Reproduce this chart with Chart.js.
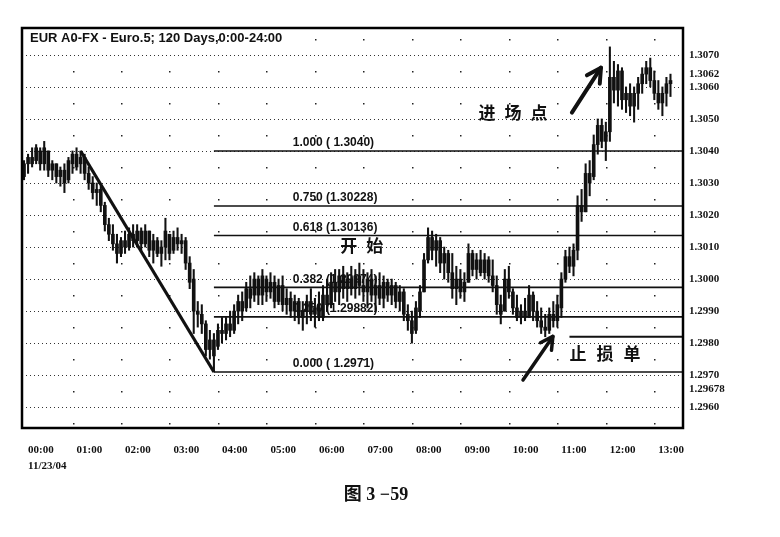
<!DOCTYPE html>
<html>
<head>
<meta charset="utf-8">
<script src="https://cdn.jsdelivr.net/npm/chart.js@4.4.1/dist/chart.umd.min.js"></script>
<style>
  html, body { margin: 0; padding: 0; background: #fff; }
  #wrap { width: 780px; height: 537px; position: relative; }
</style>
</head>
<body>
<div id="wrap"><canvas id="c"></canvas></div>
<script>
// EUR/USD 5-minute bars, 11/23/04 00:00 - 13:20
const highs = [
  1.3037,1.3039,1.3041,1.3042,1.3041,1.3043,1.3040,1.3037,1.3036,1.3035,
  1.3036,1.3038,1.3040,1.3041,1.3040,1.3039,1.3035,1.3032,1.3030,1.3029,
  1.3024,1.3019,1.3017,1.3014,1.3013,1.3015,1.3016,1.3017,1.3017,1.3016,
  1.3017,1.3015,1.3014,1.3013,1.3012,1.3019,1.3014,1.3015,1.3016,1.3014,
  1.3013,1.3007,1.3003,1.2993,1.2992,1.2987,1.2984,1.2983,1.2986,1.2988,
  1.2988,1.2990,1.2992,1.2995,1.2996,1.2999,1.3001,1.3002,1.3001,1.3003,
  1.3001,1.3002,1.3001,1.3000,1.3001,1.2997,1.2996,1.2995,1.2994,1.2993,
  1.2995,1.2997,1.2994,1.2996,1.2998,1.3000,1.3002,1.3003,1.3003,1.3004,
  1.3002,1.3004,1.3003,1.3005,1.3003,1.3002,1.3003,1.3001,1.3002,1.3001,
  1.3000,1.3000,1.2999,1.2998,1.2997,1.2992,1.2990,1.2993,1.2998,1.3008,
  1.3016,1.3015,1.3014,1.3013,1.3010,1.3009,1.3008,1.3004,1.3003,1.3002,
  1.3011,1.3009,1.3008,1.3009,1.3008,1.3007,1.3006,1.3001,1.2995,1.3003,
  1.3004,1.2997,1.2995,1.2992,1.2994,1.2998,1.2996,1.2993,1.2991,1.2989,
  1.2991,1.2993,1.2995,1.3002,1.3009,1.3010,1.3011,1.3026,1.3028,1.3036,
  1.3037,1.3045,1.3050,1.3050,1.3049,1.30725,1.3068,1.3067,1.3066,1.3060,
  1.3061,1.3060,1.3063,1.3066,1.3068,1.3069,1.3065,1.3062,1.3060,1.3063,
  1.3064
];
const lows = [
  1.3031,1.3033,1.3035,1.3036,1.3034,1.3034,1.3032,1.3031,1.3030,1.3029,
  1.3027,1.3030,1.3033,1.3034,1.3033,1.3031,1.3028,1.3025,1.3023,1.3021,
  1.3015,1.3012,1.3009,1.3005,1.3007,1.3008,1.3009,1.3010,1.3010,1.3009,
  1.3010,1.3007,1.3005,1.3007,1.3004,1.3006,1.3006,1.3008,1.3009,1.3008,
  1.3003,1.2997,1.2983,1.2985,1.2983,1.2976,1.2975,1.2971,1.2978,1.2980,
  1.2981,1.2982,1.2983,1.2986,1.2987,1.2990,1.2991,1.2993,1.2992,1.2992,
  1.2993,1.2994,1.2991,1.2992,1.2990,1.2989,1.2988,1.2987,1.2986,1.2984,
  1.2986,1.2987,1.2985,1.2987,1.2987,1.2990,1.2991,1.2993,1.2992,1.2994,
  1.2993,1.2995,1.2994,1.2995,1.2993,1.2991,1.2993,1.2990,1.2992,1.2991,
  1.2993,1.2992,1.2991,1.2990,1.2987,1.2984,1.2980,1.2983,1.2988,1.2996,
  1.3005,1.3006,1.3004,1.3002,1.3000,1.2999,1.2994,1.2992,1.2994,1.2993,
  1.2999,1.3001,1.3000,1.3001,1.3000,1.2999,1.2996,1.2989,1.2986,1.2990,
  1.2994,1.2989,1.2987,1.2986,1.2987,1.2988,1.2987,1.2985,1.2983,1.2982,
  1.2983,1.2985,1.2985,1.2988,1.2999,1.3002,1.3001,1.3006,1.3018,1.3021,
  1.3026,1.3031,1.3039,1.3041,1.3037,1.3043,1.3055,1.3054,1.3053,1.3052,
  1.3051,1.3049,1.3053,1.3058,1.3061,1.3060,1.3056,1.3053,1.3051,1.3054,
  1.3057
];
const opens = [
  1.3032,1.3036,1.3038,1.3037,1.3040,1.3036,1.3040,1.3034,1.3036,1.3032,
  1.3034,1.3031,1.3036,1.3039,1.3036,1.3038,1.3033,1.3030,1.3027,1.3028,
  1.3023,1.3017,1.3014,1.3011,1.3008,1.3012,1.3010,1.3014,1.3012,1.3015,
  1.3011,1.3015,1.3009,1.3012,1.3008,1.3010,1.3014,1.3009,1.3013,1.3011,
  1.3012,1.3005,1.3000,1.2990,1.2989,1.2986,1.2978,1.2981,1.2979,1.2984,
  1.2983,1.2986,1.2984,1.2990,1.2993,1.2991,1.2997,1.2995,1.3000,1.2995,
  1.3000,1.2996,1.2999,1.2993,1.2998,1.2992,1.2994,1.2990,1.2993,1.2988,
  1.2990,1.2993,1.2989,1.2991,1.2988,1.2995,1.2992,1.2999,1.2996,1.3001,
  1.2997,1.3000,1.2997,1.3001,1.2998,1.2996,1.3000,1.2995,1.2998,1.2994,
  1.2999,1.2995,1.2998,1.2993,1.2996,1.2989,1.2987,1.2984,1.2990,1.2996,
  1.3006,1.3013,1.3009,1.3012,1.3005,1.3008,1.3002,1.2997,1.3000,1.2996,
  1.2999,1.3008,1.3003,1.3006,1.3002,1.3006,1.3001,1.2998,1.2992,1.2990,
  1.3000,1.2996,1.2991,1.2988,1.2990,1.2988,1.2995,1.2990,1.2987,1.2985,
  1.2984,1.2989,1.2987,1.2991,1.3000,1.3007,1.3004,1.3009,1.3023,1.3021,
  1.3033,1.3032,1.3042,1.3048,1.3043,1.3046,1.3063,1.3059,1.3065,1.3056,
  1.3058,1.3054,1.3058,1.3061,1.3064,1.3066,1.3062,1.3058,1.3055,1.3058,
  1.3061
];
const closes = [
  1.3036,1.3038,1.3036,1.3041,1.3036,1.3041,1.3034,1.3036,1.3032,1.3034,
  1.3030,1.3037,1.3039,1.3035,1.3038,1.3033,1.3030,1.3027,1.3028,1.3023,
  1.3017,1.3014,1.3011,1.3008,1.3012,1.3010,1.3014,1.3012,1.3015,1.3011,
  1.3015,1.3009,1.3012,1.3008,1.3010,1.3015,1.3008,1.3013,1.3011,1.3012,
  1.3005,1.2999,1.2990,1.2989,1.2986,1.2978,1.2981,1.2976,1.2984,1.2983,
  1.2986,1.2984,1.2990,1.2993,1.2990,1.2997,1.2994,1.3000,1.2995,1.3001,
  1.2996,1.2999,1.2993,1.2998,1.2992,1.2994,1.2990,1.2993,1.2988,1.2990,
  1.2993,1.2989,1.2991,1.2988,1.2995,1.2992,1.2999,1.2996,1.3001,1.2997,
  1.3000,1.2997,1.3001,1.2998,1.2996,1.3000,1.2995,1.2998,1.2994,1.2999,
  1.2995,1.2998,1.2993,1.2996,1.2989,1.2987,1.2983,1.2991,1.2996,1.3006,
  1.3013,1.3009,1.3012,1.3005,1.3008,1.3002,1.2997,1.3000,1.2996,1.2999,
  1.3008,1.3003,1.3006,1.3002,1.3006,1.3001,1.2998,1.2992,1.2989,1.3000,
  1.2996,1.2991,1.2988,1.2990,1.2988,1.2995,1.2990,1.2987,1.2985,1.2984,
  1.2989,1.2987,1.2992,1.3000,1.3007,1.3004,1.3009,1.3023,1.3021,1.3033,
  1.3030,1.3042,1.3048,1.3043,1.3046,1.3063,1.3059,1.3065,1.3056,1.3058,
  1.3054,1.3058,1.3061,1.3064,1.3066,1.3062,1.3058,1.3055,1.3058,1.3061,
  1.3062
];

// x axis: one unit per 5-minute bar, labels every hour
const hourTicks = [0, 12, 24, 36, 48, 60, 72, 84, 96, 108, 120, 132, 144, 156];
const hourLabels = ['00:00','01:00','02:00','03:00','04:00','05:00','06:00',
                    '07:00','08:00','09:00','10:00','11:00','12:00','13:00'];
const dateLabel = '11/23/04';

// right axis labels (incl. last price and a marker price)
const yTickValues = [1.3070, 1.3062, 1.3060, 1.3050, 1.3040, 1.3030, 1.3020, 1.3010,
                     1.3000, 1.2990, 1.2980, 1.2970, 1.29678, 1.2960];
const yTickLabels = ['1.3070','1.3062','1.3060','1.3050','1.3040','1.3030','1.3020','1.3010',
                     '1.3000','1.2990','1.2980','1.2970','1.29678','1.2960'];
const gridLevels = [1.3070, 1.3060, 1.3050, 1.3040, 1.3030, 1.3020, 1.3010,
                    1.3000, 1.2990, 1.2980, 1.2970, 1.2960];
const halfLevels = [1.3075, 1.3065, 1.3055, 1.3045, 1.3035, 1.3025, 1.3015, 1.3005,
                    1.2995, 1.2985, 1.2975, 1.2965, 1.2955];

// fibonacci retracement of the 1.3040 -> 1.2971 drop
const swingHighBar = 14;
const swingLowBar = 47;
const fibLevels = [1.3040, 1.30228, 1.30136, 1.29974, 1.29882, 1.2971];
const fibLabels = ['1.000 ( 1.3040)', '0.750 (1.30228)', '0.618 (1.30136)',
                   '0.382 (1.29974)', '0.250 (1.29882)', '0.000 ( 1.2971)'];
const stopLoss = 1.2982;
const stopLossFromBar = 135;

const title = 'EUR A0-FX - Euro.5; 120 Days,0:00-24:00';
const caption = '图 3 −59';

const xMin = -0.5, xMax = 163.1;
const yMin = 1.29535, yMax = 1.30784;

const INK = '#111';

const wickData = highs.map((h, i) => ({ x: i, y: [lows[i], h] }));
const bodyData = opens.map((o, i) => ({ x: i, y: [o, closes[i]] }));

const lineSet = (data, width) => ({
  type: 'line', data, borderColor: INK, borderWidth: width,
  pointRadius: 0, fill: false, tension: 0, order: -1
});

const fibSets = fibLevels.map(v => lineSet([{ x: swingLowBar, y: v }, { x: xMax, y: v }], 1.6));

function arrow(ctx, x1, y1, x2, y2, w, head) {
  ctx.save();
  ctx.strokeStyle = INK;
  ctx.lineWidth = w;
  ctx.lineCap = 'round';
  ctx.lineJoin = 'round';
  ctx.beginPath();
  ctx.moveTo(x1, y1);
  ctx.lineTo(x2, y2);
  ctx.stroke();
  const a = Math.atan2(y2 - y1, x2 - x1);
  ctx.beginPath();
  ctx.moveTo(x2 - head * Math.cos(a - 0.5), y2 - head * Math.sin(a - 0.5));
  ctx.lineTo(x2, y2);
  ctx.lineTo(x2 - head * Math.cos(a + 0.5), y2 - head * Math.sin(a + 0.5));
  ctx.stroke();
  ctx.restore();
}

function spacedText(ctx, text, x, y, pitch) {
  [...text].forEach((ch, k) => ctx.fillText(ch, x + k * pitch, y));
}

const overlay = {
  id: 'overlay',
  beforeDatasetsDraw(chart) {
    const { ctx, chartArea: a, scales: { x, y } } = chart;
    ctx.save();
    // dotted horizontal grid
    ctx.strokeStyle = '#333';
    ctx.lineWidth = 1;
    ctx.setLineDash([1, 3]);
    gridLevels.forEach(v => {
      const py = Math.round(y.getPixelForValue(v)) + 0.5;
      ctx.beginPath();
      ctx.moveTo(a.left + 4, py);
      ctx.lineTo(a.right - 2, py);
      ctx.stroke();
    });
    ctx.setLineDash([]);
    // isolated dots at half levels on each hour
    ctx.fillStyle = '#222';
    hourTicks.forEach(t => {
      const px = Math.round(x.getPixelForValue(t));
      halfLevels.forEach(v => {
        const py = Math.round(y.getPixelForValue(v));
        if (py > a.top + 2 && py < a.bottom - 2 && px > a.left + 2) ctx.fillRect(px, py, 1.5, 1.5);
      });
    });
    ctx.restore();
  },
  afterDatasetsDraw(chart) {
    const { ctx, chartArea: a, scales: { x, y } } = chart;
    ctx.save();
    // fib labels
    ctx.fillStyle = INK;
    ctx.font = 'bold 12px "Liberation Sans", Arial, sans-serif';
    ctx.textAlign = 'left';
    ctx.textBaseline = 'bottom';
    fibLevels.forEach((v, k) => {
      ctx.fillText(fibLabels[k], x.getPixelForValue(66.5), y.getPixelForValue(v) - 2);
    });

    // chinese notes
    ctx.font = 'bold 17px "Noto Sans CJK SC", sans-serif';
    ctx.textAlign = 'center';
    ctx.textBaseline = 'middle';
    spacedText(ctx, '进场点', x.getPixelForValue(114.6), y.getPixelForValue(1.30520), 26);
    spacedText(ctx, '开始', x.getPixelForValue(80.4), y.getPixelForValue(1.30104), 26);
    spacedText(ctx, '止损单', x.getPixelForValue(137.1), y.getPixelForValue(1.29768), 27);

    arrow(ctx, x.getPixelForValue(135.6), y.getPixelForValue(1.30520),
               x.getPixelForValue(142.8), y.getPixelForValue(1.30660), 4, 16);
    arrow(ctx, x.getPixelForValue(123.5), y.getPixelForValue(1.29685),
               x.getPixelForValue(130.9), y.getPixelForValue(1.29821), 3.5, 14);

    // title
    ctx.font = 'bold 13px "Liberation Sans", Arial, sans-serif';
    ctx.textAlign = 'left';
    ctx.textBaseline = 'middle';
    ctx.fillText(title, a.left + 8, a.top + 10);

    // frame
    ctx.strokeStyle = '#000';
    ctx.lineWidth = 2.5;
    ctx.strokeRect(a.left, a.top, a.right - a.left, a.bottom - a.top);
    ctx.restore();
  },
  afterDraw(chart) {
    const { ctx } = chart;
    ctx.save();
    ctx.fillStyle = INK;
    ctx.font = 'bold 18px "Liberation Serif", "Noto Sans CJK SC", serif';
    ctx.textAlign = 'center';
    ctx.textBaseline = 'middle';
    ctx.fillText(caption, 376, 495);
    ctx.restore();
  }
};

const axisFont = { family: '"Liberation Serif", "Times New Roman", serif', size: 11, weight: 'bold', lineHeight: 1.45 };

new Chart(document.getElementById('c'), {
  type: 'bar',
  data: {
    datasets: [
      lineSet([{ x: swingHighBar, y: highs[swingHighBar] }, { x: swingLowBar, y: lows[swingLowBar] }], 3.2),
      ...fibSets,
      lineSet([{ x: stopLossFromBar, y: stopLoss }, { x: xMax, y: stopLoss }], 2),
      { data: bodyData, backgroundColor: INK, barThickness: 3, grouped: false, order: 1 },
      { data: wickData, backgroundColor: INK, barThickness: 1.4, grouped: false, order: 2 }
    ]
  },
  options: {
    responsive: true,
    maintainAspectRatio: false,
    animation: false,
    layout: { padding: { left: 22, top: 28, right: 0, bottom: 0 } },
    plugins: { legend: { display: false }, tooltip: { enabled: false } },
    scales: {
      x: {
        type: 'linear', min: xMin, max: xMax, offset: false,
        grid: { display: false, offset: false }, border: { display: false },
        afterBuildTicks: s => { s.ticks = hourTicks.map(v => ({ value: v })); },
        afterFit: s => { s.height = 537 - 428; },
        ticks: {
          color: INK, font: axisFont, align: 'start', labelOffset: 4, padding: 6,
          autoSkip: false, maxRotation: 0,
          callback: (v, i) => i === 0 ? [hourLabels[i], dateLabel] : hourLabels[i]
        }
      },
      y: {
        position: 'right', min: yMin, max: yMax,
        grid: { display: false, drawTicks: false }, border: { display: false },
        afterBuildTicks: s => { s.ticks = yTickValues.map(v => ({ value: v })); },
        afterFit: s => { s.width = 780 - 683; },
        ticks: {
          color: INK, font: { ...axisFont, lineHeight: 1.2 }, padding: 6, autoSkip: false,
          // crowded labels are pushed apart, as in the original
          callback: (v, i) => {
            const t = yTickLabels[i];
            if (t === '1.29678') return ['', t];
            if (t === '1.3062') return [t, ''];
            return t;
          }
        }
      }
    }
  },
  plugins: [overlay]
});
</script>
</body>
</html>
